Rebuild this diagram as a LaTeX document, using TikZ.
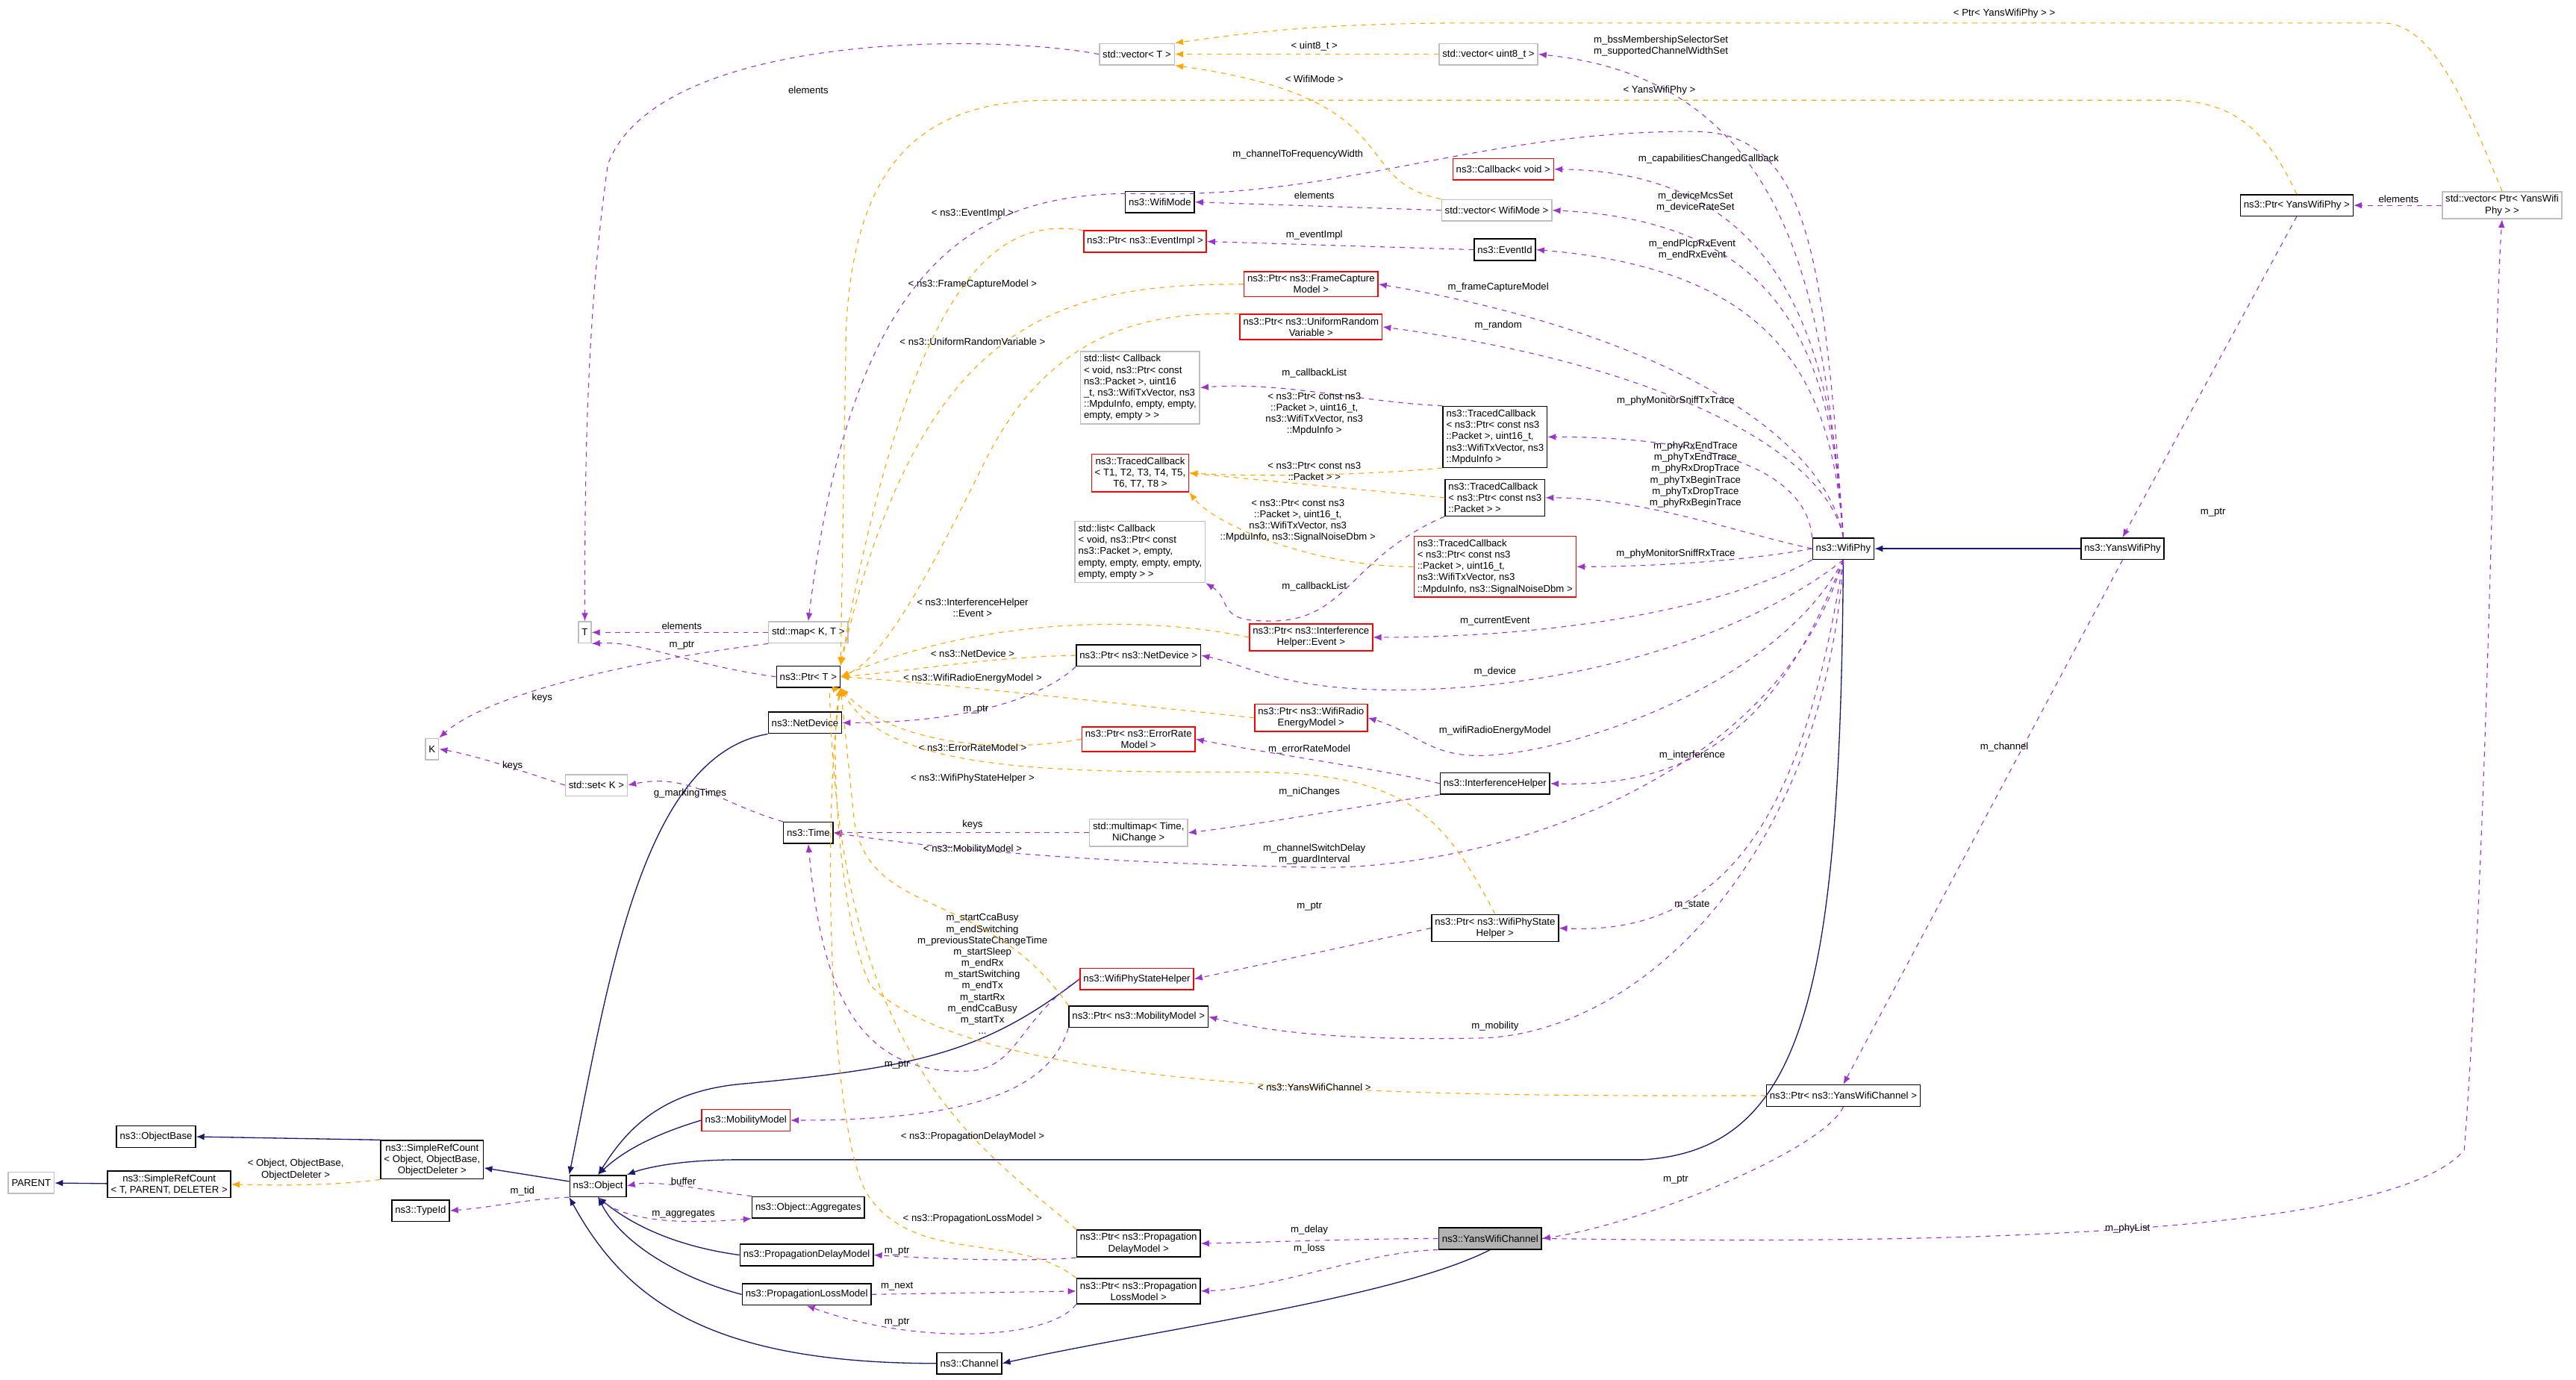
\documentclass[tikz,border=0pt]{standalone}
\usepackage{fontspec}
\setmainfont{Liberation Sans}
\usetikzlibrary{arrows.meta}
\definecolor{mpurple}{HTML}{9A32CD}
\definecolor{morange}{HTML}{FFA500}
\definecolor{mnavy}{HTML}{191970}
\begin{document}
\begin{tikzpicture}[x=1pt,y=-1pt,
 box/.style={draw=black,fill=white,font=\fontsize{6}{6.9}\selectfont,align=center,inner sep=2pt,minimum height=13pt,line width=0.7pt},
 redc/.style={box,draw=red},
 grayc/.style={box,draw=gray!50},
 lbl/.style={font=\fontsize{6}{6.9}\selectfont,align=center,inner sep=0pt},
 mem/.style={draw=mpurple,dashed,line width=0.5pt,-{Latex[length=5pt,width=4pt]}},
 tpl/.style={draw=morange,dashed,line width=0.5pt,-{Latex[length=5pt,width=4pt]}},
 inh/.style={draw=mnavy,line width=0.6pt,-{Latex[length=5pt,width=4pt]}}]
\useasboundingbox (0,0) rectangle (1568,840);
% nodes
\node[grayc] (vT) at (692,33) {std::vector< T >};
\node[grayc] (vU8) at (906,33) {std::vector< uint8\_t >};
\node[redc] (cbv) at (915,103) {ns3::Callback< void >};
\node[box] (wm) at (706,123) {ns3::WifiMode};
\node[grayc] (vWM) at (911,128) {std::vector< WifiMode >};
\node[redc] (pEI) at (697,147) {ns3::Ptr< ns3::EventImpl >};
\node[box] (eid) at (916,152) {ns3::EventId};
\node[redc] (pFC) at (798,173) {ns3::Ptr< ns3::FrameCapture\\Model >};
\node[redc] (pUR) at (798,199) {ns3::Ptr< ns3::UniformRandom\\Variable >};
\node[grayc,align=left] (lst1) at (694,236) {std::list< Callback\\< void, ns3::Ptr< const\\ ns3::Packet >, uint16\\\_t, ns3::WifiTxVector, ns3\\::MpduInfo, empty, empty,\\ empty, empty > >};
\node[box,align=left] (tc1) at (910,266) {ns3::TracedCallback\\< ns3::Ptr< const ns3\\::Packet >, uint16\_t,\\ ns3::WifiTxVector, ns3\\ ::MpduInfo >};
\node[redc] (tcT) at (694,288) {ns3::TracedCallback\\< T1, T2, T3, T4, T5,\\ T6, T7, T8 >};
\node[box,align=left] (tc2) at (910,303) {ns3::TracedCallback\\< ns3::Ptr< const ns3\\ ::Packet > >};
\node[grayc,align=left] (lst2) at (694,336) {std::list< Callback\\< void, ns3::Ptr< const\\ ns3::Packet >, empty,\\ empty, empty, empty, empty,\\ empty, empty > >};
\node[redc,align=left] (tc3) at (910,345) {ns3::TracedCallback\\< ns3::Ptr< const ns3\\::Packet >, uint16\_t,\\ ns3::WifiTxVector, ns3\\::MpduInfo, ns3::SignalNoiseDbm >};
\node[redc] (pIE) at (798,388) {ns3::Ptr< ns3::Interference\\Helper::Event >};
\node[box] (pND) at (693,399) {ns3::Ptr< ns3::NetDevice >};
\node[redc] (pWR) at (798,437) {ns3::Ptr< ns3::WifiRadio\\EnergyModel >};
\node[redc] (pER) at (693,450) {ns3::Ptr< ns3::ErrorRate\\Model >};
\node[box] (ih) at (910,477) {ns3::InterferenceHelper};
\node[grayc] (mm) at (693,507) {std::multimap< Time,\\NiChange >};
\node[box] (time) at (492,507) {ns3::Time};
\node[box] (pSH) at (910,565) {ns3::Ptr< ns3::WifiPhyState\\Helper >};
\node[redc] (sh) at (692,596) {ns3::WifiPhyStateHelper};
\node[box] (pMM) at (693,619) {ns3::Ptr< ns3::MobilityModel >};
\node[redc] (mob) at (454,682) {ns3::MobilityModel};
\node[box] (src) at (263,706) {ns3::SimpleRefCount\\< Object, ObjectBase,\\ObjectDeleter >};
\node[box] (ob) at (95,692) {ns3::ObjectBase};
\node[box] (srt) at (103,721) {ns3::SimpleRefCount\\< T, PARENT, DELETER >};
\node[grayc] (par) at (19,720) {PARENT};
\node[box] (obj) at (364,722) {ns3::Object};
\node[box] (tid) at (256,737) {ns3::TypeId};
\node[box] (agg) at (492,735) {ns3::Object::Aggregates};
\node[box] (pdm) at (491,764) {ns3::PropagationDelayModel};
\node[box] (plm) at (491,788) {ns3::PropagationLossModel};
\node[box] (pPD) at (693,757) {ns3::Ptr< ns3::Propagation\\DelayModel >};
\node[box] (pPL) at (693,786) {ns3::Ptr< ns3::Propagation\\LossModel >};
\node[box] (chan) at (590,830) {ns3::Channel};
\node[box,fill=gray!60] (ywc) at (907,754) {ns3::YansWifiChannel};
\node[box] (pYC) at (1122,667) {ns3::Ptr< ns3::YansWifiChannel >};
\node[box] (wp) at (1122,334) {ns3::WifiPhy};
\node[box] (ywp) at (1292,334) {ns3::YansWifiPhy};
\node[box] (pYP) at (1398,125) {ns3::Ptr< YansWifiPhy >};
\node[grayc] (vYP) at (1523,125) {std::vector< Ptr< YansWifi\\Phy > >};
\node[grayc] (T) at (356,385) {T};
\node[grayc] (map) at (492,385) {std::map< K, T >};
\node[box] (pT) at (492,412) {ns3::Ptr< T >};
\node[box] (nd) at (490,440) {ns3::NetDevice};
\node[grayc] (K) at (263,456) {K};
\node[grayc] (set) at (363,478) {std::set< K >};

% inheritance
\draw[inh] (ywp) -- (wp);
\draw[inh] (wp.south) .. controls (1120,600) and (1100,700) .. (1000,706) -- (450,706) .. controls (410,706) and (390,712) .. (obj.north east);
\draw[inh] (sh.west) .. controls (600,640) and (560,650) .. (450,660) .. controls (400,665) and (380,690) .. (obj.north);
\draw[inh] (nd.south west) .. controls (390,460) and (370,600) .. (obj.north west);
\draw[inh] (mob.west) .. controls (400,690) and (380,700) .. (obj.north);
\draw[inh] (pdm.west) .. controls (420,760) and (390,750) .. (obj.south);
\draw[inh] (plm.west) .. controls (420,780) and (380,760) .. (obj.south);
\draw[inh] (chan.west) .. controls (430,830) and (380,790) .. (obj.south west);
\draw[inh] (ywc.south) .. controls (850,790) and (700,810) .. (chan.east);
\draw[inh] (obj) -- (src);
\draw[inh] (src.north west) -- (ob.east);
\draw[inh] (srt) -- (par);
\draw[tpl] (src.south west) .. controls (210,721) and (180,722) .. (srt.east);
\node[lbl] (l1) at (180,712) {< Object, ObjectBase,\\ObjectDeleter >};

% WifiPhy members
\draw[mem] (wp.north) .. controls (1110,200) and (1100,50) .. (vU8.east);
\node[lbl] at (1011,28) {m\_bssMembershipSelectorSet\\m\_supportedChannelWidthSet};
\draw[mem] (wp.north) .. controls (1110,150) and (1100,80) .. (1030,80) .. controls (900,80) and (820,120) .. (700,118) .. controls (600,115) and (520,150) .. (map.north);
\node[lbl] at (790,94) {m\_channelToFrequencyWidth};
\draw[mem] (wp.north) .. controls (1115,200) and (1080,105) .. (cbv.east);
\node[lbl] at (1040,97) {m\_capabilitiesChangedCallback};
\draw[mem] (wp.north) .. controls (1115,220) and (1090,135) .. (vWM.east);
\node[lbl] at (1032,123) {m\_deviceMcsSet\\m\_deviceRateSet};
\draw[mem] (wp.north) .. controls (1115,240) and (1090,165) .. (eid.east);
\node[lbl] at (1030,152) {m\_endPlcpRxEvent\\m\_endRxEvent};
\draw[mem] (wp.north) .. controls (1110,260) and (1000,200) .. (pFC.east);
\node[lbl] at (912,175) {m\_frameCaptureModel};
\draw[mem] (wp.north) .. controls (1110,270) and (1000,220) .. (pUR.east);
\node[lbl] at (912,198) {m\_random};
\draw[mem] (wp.north west) .. controls (1100,290) and (1050,266) .. (tc1.east);
\node[lbl] at (1020,244) {m\_phyMonitorSniffTxTrace};
\draw[mem] (wp.west) .. controls (1060,325) and (1000,303) .. (tc2.east);
\node[lbl] at (1032,289) {m\_phyRxEndTrace\\m\_phyTxEndTrace\\m\_phyRxDropTrace\\m\_phyTxBeginTrace\\m\_phyTxDropTrace\\m\_phyRxBeginTrace};
\draw[mem] (wp.west) .. controls (1060,342) and (1000,345) .. (tc3.east);
\node[lbl] at (1020,337) {m\_phyMonitorSniffRxTrace};
\draw[mem] (wp.south west) .. controls (1050,370) and (950,388) .. (pIE.east);
\node[lbl] at (910,378) {m\_currentEvent};
\draw[mem] (wp.south) .. controls (1060,390) and (950,420) .. (850,420) .. controls (780,420) and (760,405) .. (pND.east);
\node[lbl] at (910,409) {m\_device};
\draw[mem] (wp.south) .. controls (1080,420) and (950,460) .. (900,460) .. controls (870,460) and (860,445) .. (pWR.east);
\node[lbl] at (910,445) {m\_wifiRadioEnergyModel};
\draw[mem] (wp.south) .. controls (1090,420) and (1050,480) .. (ih.east);
\node[lbl] at (1030,460) {m\_interference};
\draw[mem] (wp.south) .. controls (1080,480) and (900,530) .. (800,528) .. controls (650,525) and (560,515) .. (time.east);
\node[lbl] at (800,520) {m\_channelSwitchDelay\\m\_guardInterval};
\draw[mem] (wp.south) .. controls (1100,480) and (1060,570) .. (pSH.east);
\node[lbl] at (1030,551) {m\_state};
\draw[mem] (wp.south) .. controls (1110,520) and (1000,630) .. (900,632) .. controls (800,634) and (760,625) .. (pMM.east);
\node[lbl] at (910,625) {m\_mobility};

% other members
\draw[mem] (vT.west) .. controls (600,20) and (400,20) .. (370,100) .. controls (356,200) and (356,300) .. (T.north);
\node[lbl] at (492,55) {elements};
\draw[mem] (vWM.west) -- (wm.east);
\node[lbl] at (800,119) {elements};
\draw[mem] (eid.west) -- (pEI.east);
\node[lbl] at (800,143) {m\_eventImpl};
\draw[mem] (tc1.north west) .. controls (830,245) and (780,232) .. (lst1.east);
\node[lbl] at (800,227) {m\_callbackList};
\draw[mem] (tc2.south west) .. controls (820,340) and (820,380) .. (770,378) .. controls (740,378) and (750,365) .. (lst2.south east);
\node[lbl] at (800,357) {m\_callbackList};
\draw[mem] (map.west) -- (T.east);
\node[lbl] at (415,381) {elements};
\draw[mem] (pT.west) .. controls (420,405) and (390,390) .. (T.south east);
\node[lbl] at (415,393) {m\_ptr};
\draw[mem] (map.south west) .. controls (400,400) and (300,420) .. (K.north east);
\node[lbl] at (330,425) {keys};
\draw[mem] (set.west) .. controls (320,470) and (290,460) .. (K.east);
\node[lbl] at (312,466) {keys};
\draw[mem] (time.north west) .. controls (440,490) and (420,470) .. (set.east);
\node[lbl] at (420,483) {g\_markingTimes};
\draw[mem] (mm.west) -- (time.east);
\node[lbl] at (592,502) {keys};
\draw[mem] (ih.west) .. controls (850,470) and (780,460) .. (pER.east);
\node[lbl] at (797,456) {m\_errorRateModel};
\draw[mem] (ih.south west) .. controls (830,490) and (780,500) .. (mm.east);
\node[lbl] at (797,482) {m\_niChanges};
\draw[mem] (pND.south west) .. controls (640,420) and (600,440) .. (nd.east);
\node[lbl] at (594,432) {m\_ptr};
\draw[mem] (pSH.west) -- (sh.east);
\node[lbl] at (797,552) {m\_ptr};
\draw[mem] (sh.west) .. controls (620,620) and (620,650) .. (590,652) .. controls (520,655) and (500,600) .. (time.south);
\node[lbl] at (598,593) {m\_startCcaBusy\\m\_endSwitching\\m\_previousStateChangeTime\\m\_startSleep\\m\_endRx\\m\_startSwitching\\m\_endTx\\m\_startRx\\m\_endCcaBusy\\m\_startTx\\...};
\draw[mem] (pMM.south west) .. controls (640,660) and (600,682) .. (mob.east);
\node[lbl] at (546,648) {m\_ptr};
\draw[mem] (obj.south west) .. controls (320,730) and (300,735) .. (tid.east);
\node[lbl] at (318,725) {m\_tid};
\draw[mem] (agg.north west) .. controls (430,725) and (400,718) .. (obj.east);
\node[lbl] at (416,719) {buffer};
\draw[mem] (obj.south) .. controls (380,745) and (420,745) .. (agg.south west);
\node[lbl] at (416,739) {m\_aggregates};
\draw[mem] (pPD.south west) .. controls (630,768) and (580,767) .. (pdm.east);
\node[lbl] at (546,762) {m\_ptr};
\draw[mem] (plm.east) -- (pPL.west);
\node[lbl] at (546,783) {m\_next};
\draw[mem] (pPL.south west) .. controls (640,815) and (560,820) .. (plm.south);
\node[lbl] at (546,805) {m\_ptr};
\draw[mem] (ywc.west) .. controls (830,754) and (780,756) .. (pPD.east);
\node[lbl] at (797,749) {m\_delay};
\draw[mem] (ywc.south west) .. controls (830,762) and (780,784) .. (pPL.east);
\node[lbl] at (797,760) {m\_loss};
\draw[mem] (pYC.south) .. controls (1110,700) and (1000,745) .. (ywc.east);
\node[lbl] at (1020,718) {m\_ptr};
\draw[mem] (ywc.east) .. controls (1100,756) and (1450,760) .. (1500,700) .. controls (1515,500) and (1518,200) .. (vYP.south);
\node[lbl] at (1295,748) {m\_phyList};
\draw[mem] (ywp.south) -- (pYC.north);
\node[lbl] at (1220,455) {m\_channel};
\draw[mem] (pYP.south) -- (ywp.north);
\node[lbl] at (1347,312) {m\_ptr};
\draw[mem] (vYP.west) -- (pYP.east);
\node[lbl] at (1460,121) {elements};

% template instances
\draw[tpl] (vU8.west) -- (vT.east);
\node[lbl] at (800,28) {< uint8\_t >};
\draw[tpl] (vWM.north west) .. controls (820,110) and (860,60) .. (vT.south east);
\node[lbl] at (800,48) {< WifiMode >};
\draw[tpl] (vYP.north) .. controls (1500,60) and (1480,14) .. (1450,14) -- (900,14) .. controls (800,14) and (760,20) .. (vT.north east);
\node[lbl] at (1220,8) {< Ptr< YansWifiPhy > >};
\draw[tpl] (pYP.north) .. controls (1380,80) and (1360,61) .. (1320,61) -- (640,61) .. controls (560,61) and (520,100) .. (515,200) -- (pT.north east);
\node[lbl] at (1010,55) {< YansWifiPhy >};
\draw[tpl] (pEI.north west) .. controls (620,135) and (560,140) .. (pT.north east);
\node[lbl] at (592,130) {< ns3::EventImpl >};
\draw[tpl] (pFC.west) .. controls (650,173) and (560,190) .. (pT.north east);
\node[lbl] at (592,173) {< ns3::FrameCaptureModel >};
\draw[tpl] (pUR.north west) .. controls (700,190) and (640,200) .. (600,280) .. controls (570,340) and (540,400) .. (pT.east);
\node[lbl] at (592,208) {< ns3::UniformRandomVariable >};
\draw[tpl] (pIE.west) .. controls (700,375) and (600,375) .. (pT.east);
\node[lbl] at (592,370) {< ns3::InterferenceHelper\\::Event >};
\draw[tpl] (pND.west) .. controls (600,400) and (560,408) .. (pT.east);
\node[lbl] at (592,398) {< ns3::NetDevice >};
\draw[tpl] (pWR.west) .. controls (650,425) and (560,415) .. (pT.east);
\node[lbl] at (592,413) {< ns3::WifiRadioEnergyModel >};
\draw[tpl] (pER.west) .. controls (600,460) and (540,450) .. (pT.south east);
\node[lbl] at (592,455) {< ns3::ErrorRateModel >};
\draw[tpl] (pSH.north) .. controls (880,500) and (860,470) .. (760,470) .. controls (640,470) and (540,470) .. (pT.south east);
\node[lbl] at (592,474) {< ns3::WifiPhyStateHelper >};
\draw[tpl] (pMM.north west) .. controls (600,540) and (530,560) .. (520,500) -- (pT.south east);
\node[lbl] at (592,517) {< ns3::MobilityModel >};
\draw[tpl] (pYC.west) .. controls (900,667) and (600,670) .. (530,600) .. controls (510,560) and (505,450) .. (pT.south east);
\node[lbl] at (800,662) {< ns3::YansWifiChannel >};
\draw[tpl] (pPD.north west) .. controls (600,700) and (510,650) .. (505,420) -- (pT.south east);
\node[lbl] at (592,692) {< ns3::PropagationDelayModel >};
\draw[tpl] (pPL.north west) .. controls (620,750) and (560,770) .. (530,730) .. controls (505,700) and (500,500) .. (pT.south east);
\node[lbl] at (592,742) {< ns3::PropagationLossModel >};
\draw[tpl] (tc1.south west) .. controls (820,290) and (760,290) .. (tcT.east);
\node[lbl] at (800,252) {< ns3::Ptr< const ns3\\::Packet >, uint16\_t,\\ns3::WifiTxVector, ns3\\::MpduInfo >};
\draw[tpl] (tc2.west) -- (tcT.east);
\node[lbl] at (800,287) {< ns3::Ptr< const ns3\\::Packet > >};
\draw[tpl] (tc3.west) .. controls (800,345) and (740,320) .. (tcT.south east);
\node[lbl] at (790,317) {< ns3::Ptr< const ns3\\::Packet >, uint16\_t,\\ns3::WifiTxVector, ns3\\::MpduInfo, ns3::SignalNoiseDbm >};
\end{tikzpicture}
\end{document}
